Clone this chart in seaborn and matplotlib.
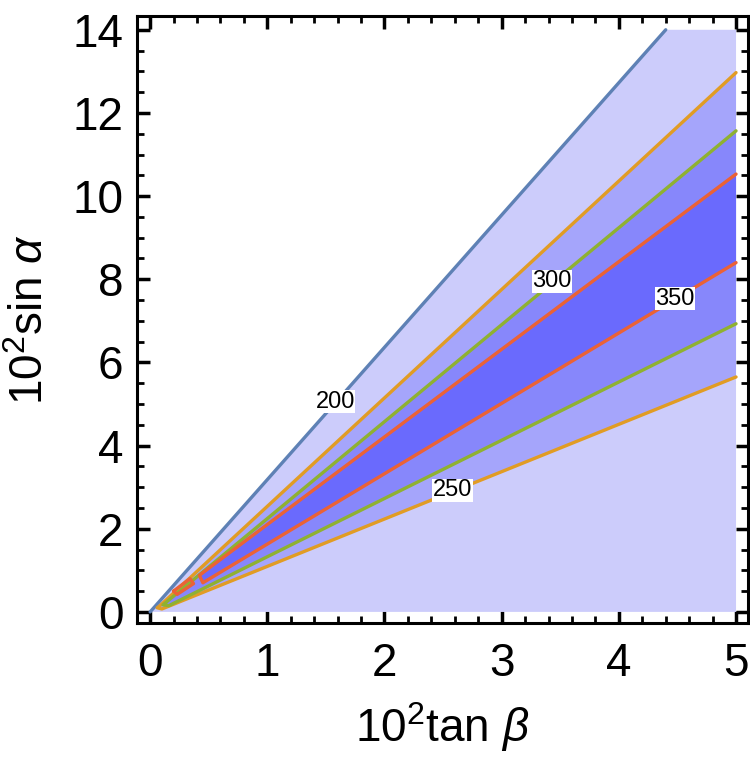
import numpy as np
import pandas as pd
import matplotlib
matplotlib.use("Agg")
import matplotlib.pyplot as plt
import seaborn as sns
from matplotlib.ticker import MultipleLocator

# Contour levels and their line / fill colours
levels = [200, 250, 300, 350]
line_colors = ['#5E81B5', '#E19C24', '#8FB131', '#EB6235']
fill_colors = ['#CCCCFB', '#A5A5FB', '#8787FB', '#6A6AFD']

# Contour paths (x = 10^2 tan beta, y = 10^2 sin alpha)
c200_x = [0.0, 4.40]
c200_y = [0.0, 14.0]
c250_x = [5.0, 0.08, 0.06, 0.10, 5.0]
c250_y = [12.97, 0.14, 0.10, 0.07, 5.65]
c300_x = [5.0, 0.14, 0.11, 0.16, 5.0]
c300_y = [11.57, 0.24, 0.17, 0.15, 6.93]
c350_x = [5.0, 0.42, 0.45, 5.0]
c350_y = [10.53, 0.88, 0.70, 8.40]
c350b_x = [0.20, 0.34, 0.37, 0.23, 0.20]
c350b_y = [0.50, 0.80, 0.68, 0.42, 0.50]

# Label positions for contour values
label_x = [1.58, 2.58, 3.43, 4.48]
label_y = [5.05, 2.92, 7.95, 7.53]

# Domain of the computed region
x_max, y_max = 5.0, 14.0

sns.set_style("ticks")
plt.rcParams['font.family'] = ['Liberation Sans', 'DejaVu Sans']
plt.rcParams['mathtext.fontset'] = 'custom'
plt.rcParams['mathtext.rm'] = 'Liberation Sans'
plt.rcParams['mathtext.it'] = 'Liberation Sans:italic'
for key in ['text.color', 'axes.labelcolor', 'xtick.color', 'ytick.color']:
    plt.rcParams[key] = 'black'

fig = plt.figure(figsize=(7.5, 7.65), dpi=100)
ax = fig.add_axes([0.183, 0.186, 0.814, 0.793])

# Filled regions, stacked from lowest to highest level
ax.fill(c200_x + [x_max, x_max], c200_y + [y_max, 0.0],
        color=fill_colors[0], lw=0, zorder=1)
ax.fill(c250_x, c250_y, color=fill_colors[1], lw=0, zorder=2)
ax.fill(c300_x, c300_y, color=fill_colors[2], lw=0, zorder=3)
ax.fill(c350_x, c350_y, color=fill_colors[3], lw=0, zorder=4)
ax.fill(c350b_x, c350b_y, color=fill_colors[3], lw=0, zorder=4)

# Contour lines
paths = [
    (c200_x, c200_y, 0),
    (c250_x, c250_y, 1),
    (c300_x, c300_y, 2),
    (c350_x, c350_y, 3),
    (c350b_x, c350b_y, 3),
]
for px, py, k in paths:
    sns.lineplot(x=px, y=py, sort=False, estimator=None, color=line_colors[k],
                 linewidth=2.4, ax=ax, zorder=5)

# Contour labels
for lx, ly, lev in zip(label_x, label_y, levels):
    ax.text(lx, ly, str(lev), fontsize=17, ha='center', va='center', zorder=6,
            color='black',
            bbox=dict(facecolor='white', edgecolor='none', pad=0.3))

ax.set_xlim(-0.11, 5.10)
ax.set_ylim(-0.26, 14.33)
ax.xaxis.set_major_locator(MultipleLocator(1))
ax.xaxis.set_minor_locator(MultipleLocator(0.2))
ax.yaxis.set_major_locator(MultipleLocator(2))
ax.yaxis.set_minor_locator(MultipleLocator(0.5))

ax.tick_params(which='both', direction='in', top=True, right=True,
               color='black', labelcolor='black', labelsize=33)
ax.tick_params(which='major', length=9, width=2.5, pad=10)
ax.tick_params(which='minor', length=5, width=2)
ax.tick_params(axis='x', which='major', pad=14)
ax.tick_params(labelright=False, labeltop=False)

for spine in ax.spines.values():
    spine.set_linewidth(2.2)
    spine.set_color('black')

ax.set_xlabel(r'$\mathrm{10^2tan}\ \beta$', fontsize=33, labelpad=10,
              color='black')
ax.set_ylabel(r'$\mathrm{10^2sin}\ \alpha$', fontsize=33, labelpad=14,
              color='black')
ax.set_facecolor('white')
fig.patch.set_facecolor('white')

fig.savefig('out.png', dpi=100)
